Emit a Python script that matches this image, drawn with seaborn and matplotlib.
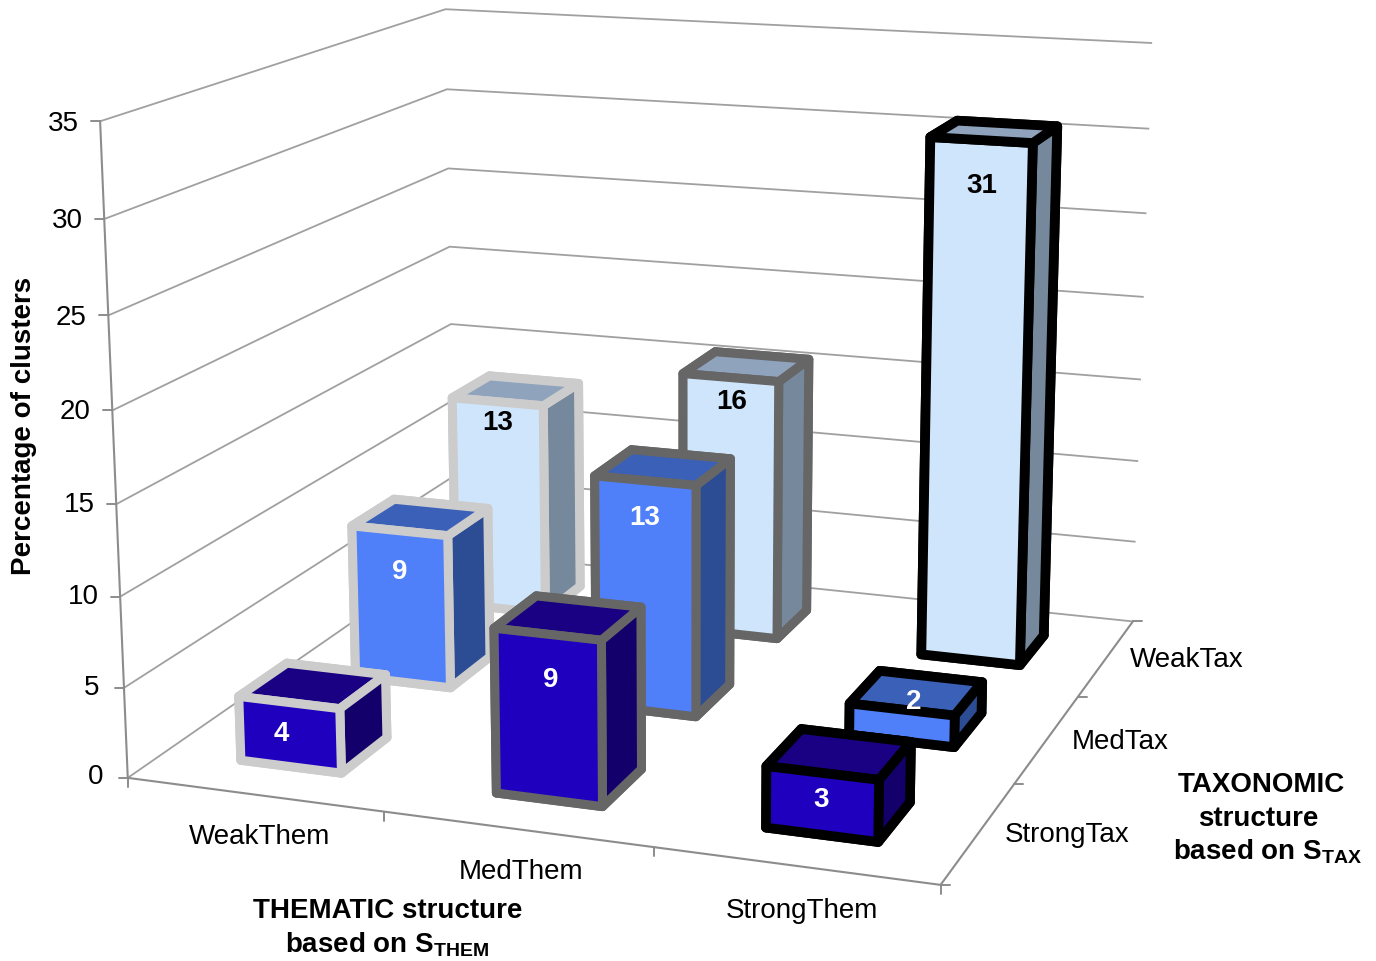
import matplotlib
matplotlib.use("Agg")
import matplotlib.pyplot as plt
import seaborn as sns
import pandas as pd
import numpy as np
from mpl_toolkits.mplot3d import proj3d

# Data (bar heights, the labels show them rounded)
them_labels = ["WeakThem", "MedThem", "StrongThem"]
tax_labels = ["StrongTax", "MedTax", "WeakTax"]
weak_them = [3.6, 9, 13]
med_them = [9, 13.3, 15.7]
strong_them = [3.3, 1.8, 30.6]
z_ticks = [0, 5, 10, 15, 20, 25, 30, 35]

# Colours per tax level (front, side, top), edge per them level
front_cols = ["#1E00BE", "#4F80F9", "#CFE5FB"]
side_cols = ["#14006A", "#2C4C94", "#75889C"]
top_cols = ["#1A0082", "#3A60B8", "#8FA3BD"]
edge_cols = ["#CCCCCC", "#666666", "#000000"]
edge_widths = [6.5, 6.5, 7]
label_cols = ["white", "white", "black"]

W_PX, H_PX = 1376, 962
GREY = "#8C8C8C"

# Where the texts sit in the picture, in pixels
z_label_px = [(96, 777), (92, 688), (83, 597), (79, 505), (75, 412), (71, 318), (67, 221), (63, 124)]
bar_label_px = [[(281, 734), (400, 572), (498, 423)],
                [(551, 680), (645, 518), (732, 402)],
                [(821, 800), (914, 702), (982, 186)]]

sns.set_theme(style="white")
plt.rcParams["font.family"] = ["Liberation Sans", "DejaVu Sans"]
plt.rcParams["text.color"] = "black"
plt.rcParams["mathtext.fontset"] = "custom"
plt.rcParams["mathtext.bf"] = "Liberation Sans:bold"

df = pd.DataFrame({"them": np.repeat(them_labels, 3),
                   "tax": tax_labels * 3,
                   "pct": weak_them + med_them + strong_them})


# Put a text at picture pixels
def px_text(x, y, s, **kw):
    kw.setdefault("fontsize", 20)
    fig.text(x / W_PX, 1 - y / H_PX, s, ha="center", va="center", **kw)


# Short tick that keeps its screen direction, starting at a data point
def tick_mark(x, y, z, dx, dy):
    u, v, _ = proj3d.proj_transform(x, y, z, ax.get_proj())
    px, py = ax.transData.transform((u, v))
    fig.add_artist(plt.Line2D([px, px + dx], [py, py + dy], transform=None, color=GREY, linewidth=1.4))


fig = plt.figure(figsize=(13.76, 9.62), dpi=100, facecolor="white")

# Camera values fitted to the wall corners of the picture
ax = fig.add_axes([-243.9 / W_PX, -339.8 / H_PX, 1766.1 / W_PX, 1766.1 / H_PX], projection="3d")
ax.set_xlim(0, 3, view_margin=0)
ax.set_ylim(0, 3, view_margin=0)
ax.set_zlim(0, 35, view_margin=0)
ax.view_init(14.12, -70.28, 0.10)
ax.set_proj_type("persp", focal_length=0.360)
ax.set_box_aspect((0.840, 0.834, 0.664), zoom=0.7122)

ax.set_xticks([0, 1, 2, 3])
ax.set_yticks([0, 1, 2, 3])
ax.set_zticks(z_ticks)
ax.zaxis.set_ticks_position("lower")
for a in (ax.xaxis, ax.yaxis, ax.zaxis):
    a.set_tick_params(label1On=False, label2On=False)
    a.offsetText.set_visible(False)
    a.label.set_visible(False)
    a.pane.set_facecolor("white")
    a.pane.set_edgecolor("white")
    a.line.set_color(GREY)
    a.line.set_linewidth(1.5)
    a._axinfo["grid"].update(color="#A0A0A0", linewidth=1.3)
    a._axinfo["tick"].update(inward_factor=0, outward_factor=0)
ax.xaxis._axinfo["grid"]["linewidth"] = 0
ax.yaxis._axinfo["grid"]["linewidth"] = 0

# Bars, back row first so the front ones cover them
ax.computed_zorder = False
for j in range(2, -1, -1):
    for i in range(3):
        val = df[(df.them == them_labels[i]) & (df.tax == tax_labels[j])].pct.iloc[0]
        faces = ["white", top_cols[j], front_cols[j], side_cols[j], side_cols[j], side_cols[j]]
        ax.bar3d(i + 0.3, j + 0.3, 0, 0.4, 0.4, val, color=faces, shade=False,
                 edgecolor=edge_cols[i], linewidth=edge_widths[i], joinstyle="round",
                 zorder=10 + (2 - j) * 3 + i)
        lx, ly = bar_label_px[i][j]
        px_text(lx, ly, f"{val:.0f}", color=label_cols[j], fontweight="bold")

# Tick marks
ax.apply_aspect()
for t in [0, 1, 2, 3]:
    tick_mark(t, 0, 0, 0, -9)
    tick_mark(3, t, 0, 9, 0)
for t in z_ticks:
    tick_mark(0, 0, t, -9, 0)

# Axis texts
for t, (lx, ly) in zip(z_ticks, z_label_px):
    px_text(lx, ly, str(t))
px_text(260, 837, them_labels[0])
px_text(521, 872, them_labels[1])
px_text(802, 911, them_labels[2])
px_text(1067, 835, tax_labels[0])
px_text(1120, 742, tax_labels[1])
px_text(1187, 660, tax_labels[2])
px_text(24, 426, "Percentage of clusters", rotation=90, fontweight="bold")
px_text(388, 911, "THEMATIC structure", fontweight="bold")
px_text(387, 945, r"based on S$_{\mathbf{THEM}}$", fontweight="bold")
px_text(1261, 785, "TAXONOMIC", fontweight="bold")
px_text(1258, 819, "structure", fontweight="bold")
px_text(1268, 852, r"based on S$_{\mathbf{TAX}}$", fontweight="bold")

fig.savefig("out.png", dpi=100)
